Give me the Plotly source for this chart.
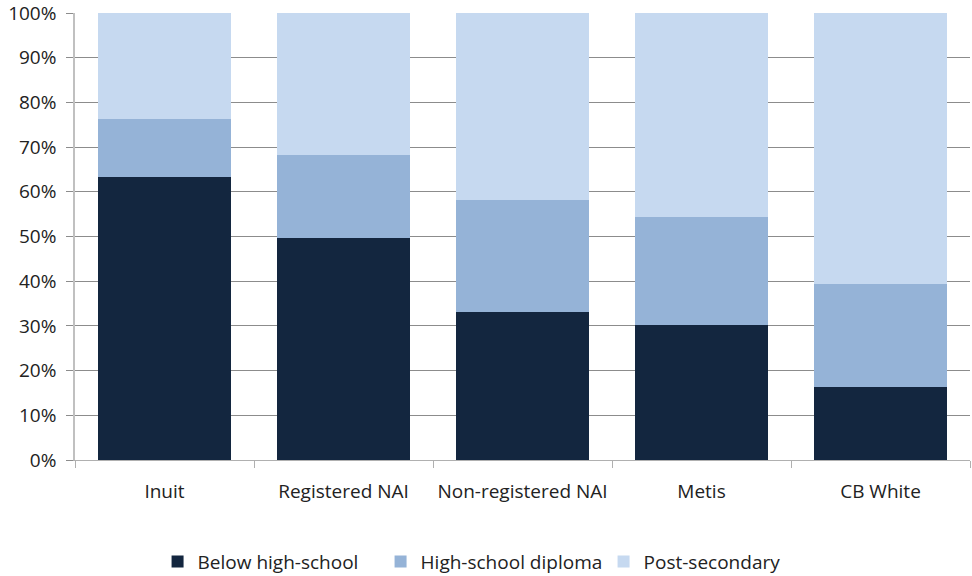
import plotly.graph_objects as go

# Educational attainment shares by group (percent of population)
groups = ["Inuit", "Registered NAI", "Non-registered NAI", "Metis", "CB White"]
below_high_school = [63.3, 49.7, 33.1, 30.2, 16.3]
high_school_diploma = [13.0, 18.5, 25.1, 24.2, 23.1]
post_secondary = [23.7, 31.8, 41.8, 45.6, 60.6]

series = [
    ("Below high-school", below_high_school, "#13263F"),
    ("High-school diploma", high_school_diploma, "#95B3D7"),
    ("Post-secondary", post_secondary, "#C6D9F0"),
]

fig = go.Figure()
for name, vals, color in series:
    fig.add_trace(go.Bar(
        name=name, x=groups, y=vals,
        marker=dict(color=color, line=dict(width=0)),
    ))

font_family = "Open Sans, Liberation Sans, sans-serif"
fs = 19

fig.update_layout(
    barmode="stack",
    barnorm="percent",
    bargap=0.26,
    width=972, height=576,
    margin=dict(l=75, r=2, t=13, b=116),
    plot_bgcolor="white", paper_bgcolor="white",
    font=dict(family=font_family, size=fs, color="#222222"),
    showlegend=True,
    legend=dict(
        orientation="h", x=0.466, xanchor="center",
        yref="container", y=0.025, yanchor="middle",
        font=dict(size=fs, color="#222222"), itemwidth=30,
        entrywidth=178, entrywidthmode="pixels",
        traceorder="normal",
    ),
    xaxis=dict(
        showgrid=False, automargin=False, tickangle=0,
        tickson="boundaries", ticks="outside", ticklen=7, tickcolor="#B0B0B0",
        showline=True, linecolor="#B0B0B0", linewidth=1,
        ticklabelstandoff=14,
        tickfont=dict(size=fs),
    ),
    yaxis=dict(
        range=[0, 100], dtick=10, ticksuffix="%", automargin=False,
        showgrid=True, gridcolor="#8C8C8C", gridwidth=1,
        ticks="outside", ticklen=7, tickcolor="#8C8C8C",
        showline=True, linecolor="#C0C0C0", linewidth=1.5,
        ticklabelstandoff=6, ticklabeloverflow="allow",
        zeroline=False, tickfont=dict(size=fs),
    ),
)

fig.write_html("out.html")
